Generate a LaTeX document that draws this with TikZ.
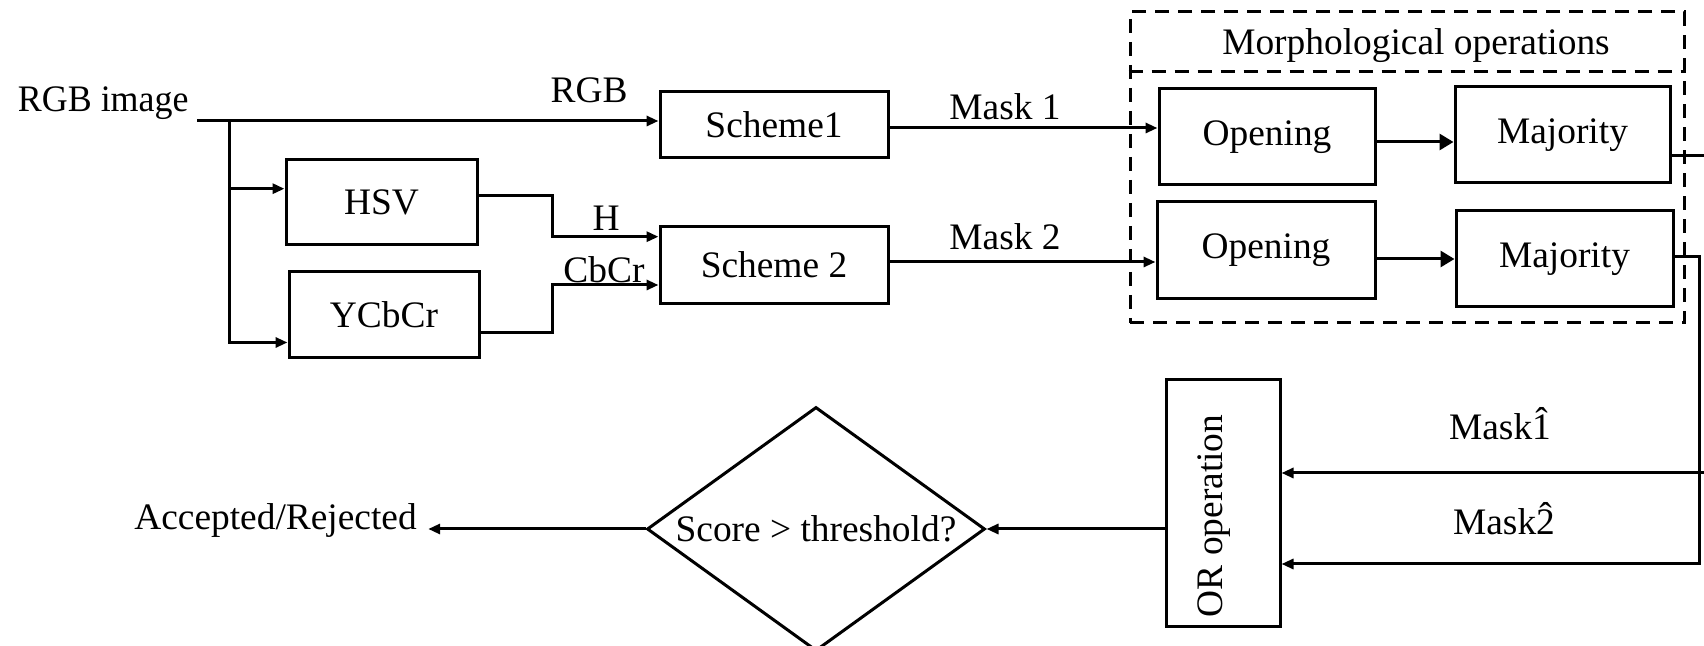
\documentclass[tikz,border=0pt]{standalone}
\usepackage{fontspec}
\setmainfont{Liberation Serif}
\usetikzlibrary{arrows.meta,shapes.geometric}

% a circumflex set centred over a digit
\newcommand\hatover[1]{\ooalign{#1\cr\hidewidth\raisebox{0.17em}{\char"02C6}\hidewidth\cr}}

\begin{document}
\begin{tikzpicture}[
  x=0.5pt, y=-0.5pt,
  line width=1.5pt,
  every node/.style={font=\fontsize{18.7pt}{22pt}\selectfont},
  box/.style={draw, line width=1.5pt, inner sep=0pt},
  arr/.style={-{Triangle[length=6pt,width=5pt]}},
  bigarr/.style={-{Triangle[length=7pt,width=8pt]}},
  grp/.style={draw, dash pattern=on 7pt off 4.5pt, line width=1.5pt},
  lbl/.style={anchor=base, inner sep=0pt},
]
\useasboundingbox (0,0) rectangle (1704,646);

% input and branching point
\node[anchor=base east, inner sep=0pt] (rgb) at (190,112) {\scalebox{0.96}[1]{RGB image}};
\coordinate (src) at (197,121);
\coordinate (br) at (229,121);

% colour-space conversions
\node[box, minimum width=95.5pt, minimum height=42.5pt] (hsv) at (381.5,202.5) {HSV};
\node[box, minimum width=95pt, minimum height=43pt] (ycc) at (384,315) {YCbCr};

% segmentation schemes
\node[box, minimum width=114pt, minimum height=33pt] (s1) at (774,124.5) {Scheme1};
\node[box, minimum width=114pt, minimum height=38.3pt] (s2) at (774,265) {Scheme 2};

% morphological operations group
\node[grp, minimum width=277pt, minimum height=155.5pt] (morph) at (1407,167.5) {};
\node[lbl] (mtitle) at (1416,55) {Morphological operations};
\coordinate (sep) at (1416,72);
\draw[dash pattern=on 7pt off 4.5pt] (morph.west |- sep) -- (morph.east |- sep);

\node[box, minimum width=108pt, minimum height=48pt] (op1) at (1267,137) {Opening};
\node[box, minimum width=107.5pt, minimum height=48pt] (maj1) at (1562.5,135) {Majority};
\node[box, minimum width=109pt, minimum height=48.5pt] (op2) at (1266,250.5) {Opening};
\node[box, minimum width=108.5pt, minimum height=48pt] (maj2) at (1564.5,259) {Majority};

% fusion and decision
\node[box, minimum width=57pt, minimum height=123.5pt] (or) at (1223,503.5) {};
\node[rotate=90, inner sep=0pt] (ortxt) at (1214,516) {OR operation};
\node[draw, diamond, aspect=1.385, minimum width=169pt, minimum height=122pt,
      inner sep=0pt, line width=1.5pt] (dia) at (816,529) {Score > threshold?};
\node[inner sep=5pt] (acc) at (275.5,521) {Accepted/Rejected};

% connectors: input to schemes
\draw[arr] (src) -- (src -| s1.west);
\node[lbl] (lrgb) at (589,103) {RGB};
\draw[arr] (br) |- ([yshift=6.9pt]hsv.west);
\draw[arr] (br) |- ([yshift=-13.75pt]ycc.west);

\coordinate (jx) at (552.5,0);
\coordinate (hsvout) at ([yshift=3.25pt]hsv.east);
\coordinate (s2h) at ([yshift=14.15pt]s2.west);
\coordinate (yccout) at ([yshift=-8.85pt]ycc.east);
\coordinate (s2c) at ([yshift=-10pt]s2.west);
\draw[arr] (hsvout) -| (jx |- s2h) -- (s2h);
\draw[arr] (yccout) -| (jx |- s2c) -- (s2c);
\node[lbl] (lh) at (606,231) {H};
\node[lbl] (lcbcr) at (604,283) {CbCr};

% schemes to morphology
\draw[arr] ([yshift=-1.75pt]s1.east) -- ([yshift=-1.75pt]s1.east -| op1.west);
\node[lbl] (lm1) at (1005,120) {Mask 1};
\draw[arr] ([yshift=1.5pt]s2.east) -- ([yshift=1.5pt]s2.east -| op2.west);
\node[lbl] (lm2) at (1005,250) {Mask 2};

\draw[bigarr] ([yshift=-2.5pt]op1.east) -- ([yshift=-2.5pt]op1.east -| maj1.west);
\draw[bigarr] ([yshift=-4.25pt]op2.east) -- ([yshift=-4.25pt]op2.east -| maj2.west);

% refined masks to the OR block
\coordinate (rx1) at (1712,0);
\coordinate (rx2) at (1699,0);
\coordinate (m1in) at ([yshift=15.25pt]or.east);
\coordinate (m2in) at ([yshift=-30.25pt]or.east);
\draw[arr] ([yshift=-10.5pt]maj1.east) -| (rx1 |- m1in) -- (m1in);
\draw[arr] ([yshift=1.15pt]maj2.east) -| (rx2 |- m2in) -- (m2in);
\node[lbl] (lm1h) at (1500,440) {Mask\hatover{1}};
\node[lbl] (lm2h) at (1504,535) {Mask\hatover{2}};

% decision
\draw[arr] ([yshift=-12.75pt]or.west) -- (dia.east);
\draw[arr] (dia.west) -- (dia.west -| acc.east);

\end{tikzpicture}
\end{document}
